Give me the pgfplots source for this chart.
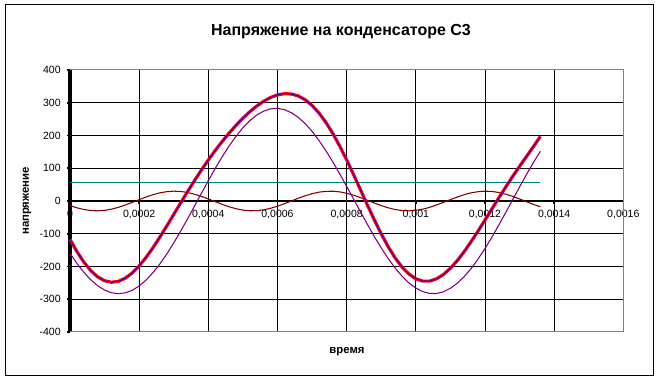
\documentclass[border=0pt]{standalone}
\usepackage{pgfplots}
\usepackage{pgfplotstable}
\pgfplotsset{compat=1.18}
\usepackage{fontspec}
\setmainfont{Liberation Sans}
\definecolor{xlred}{RGB}{255,0,0}
\definecolor{xlblue}{RGB}{0,0,255}
\definecolor{xlpurple}{RGB}{128,0,128}
\definecolor{xldred}{RGB}{128,0,0}
\definecolor{xlteal}{RGB}{0,128,128}
\definecolor{xlgray}{RGB}{128,128,128}
\pgfplotstableread{
t P D R
0       -160.0 -14.1 -117.1
0.00002 -190.6 -20.8 -154.4
0.00004 -217.5 -26.0 -186.5
0.00006 -240.4 -29.1 -212.5
0.00008 -258.7 -30.0 -231.7
0.00010 -272.0 -28.5 -243.5
0.00012 -280.2 -24.9 -248.1
0.00014 -283.0 -19.3 -245.3
0.00016 -280.4 -12.2 -235.6
0.00018 -272.6 -4.2 -219.8
0.00020 -259.4 4.2 -198.2
0.00022 -241.4 12.2 -172.2
0.00024 -218.8 19.3 -142.5
0.00026 -192.0 24.9 -110.1
0.00028 -161.6 28.5 -76.1
0.00030 -128.0 30.0 -41.0
0.00032 -92.1 29.1 -6.0
0.00034 -54.4 26.0 28.6
0.00036 -15.6 20.8 62.2
0.00038 23.4 14.1 94.5
0.00040 62.0 6.2 125.2
0.00042 99.4 -2.1 154.3
0.00044 135.0 -10.3 181.7
0.00046 167.9 -17.6 207.3
0.00048 197.6 -23.6 231.0
0.00050 223.7 -27.8 252.9
0.00052 245.4 -29.8 272.6
0.00054 262.5 -29.5 290.0
0.00056 274.5 -27.0 304.5
0.00058 281.4 -22.3 316.1
0.00060 282.9 -15.9 324.0
0.00062 279.0 -8.3 327.7
0.00064 269.7 0.0 326.7
0.00066 255.4 8.3 320.7
0.00068 236.2 15.9 309.1
0.00070 212.5 22.3 291.8
0.00072 184.7 27.0 268.7
0.00074 153.5 29.5 240.0
0.00076 119.3 29.8 206.1
0.00078 82.8 27.8 167.6
0.00080 44.8 23.6 125.4
0.00082 5.9 17.6 80.5
0.00084 -33.1 10.3 34.2
0.00086 -71.5 2.1 -12.4
0.00088 -108.5 -6.2 -57.7
0.00090 -143.5 -14.1 -100.6
0.00092 -175.7 -20.8 -139.5
0.00094 -204.5 -26.0 -173.5
0.00096 -229.5 -29.1 -201.6
0.00098 -250.1 -30.0 -223.1
0.00100 -266.0 -28.5 -237.5
0.00102 -276.7 -24.9 -244.6
0.00104 -282.3 -19.3 -244.6
0.00106 -282.4 -12.2 -237.6
0.00108 -277.2 -4.2 -224.4
0.00110 -266.6 4.2 -205.4
0.00112 -251.1 12.2 -181.9
0.00114 -230.7 19.3 -154.4
0.00116 -205.9 24.9 -124.0
0.00118 -177.2 28.5 -91.7
0.00120 -145.2 30.0 -58.2
0.00122 -110.3 29.1 -24.2
0.00124 -73.4 26.0 9.6
0.00126 -35.1 20.8 42.7
0.00128 3.8 14.1 74.9
0.00130 42.8 6.2 106.0
0.00132 80.9 -2.1 135.8
0.00134 117.4 -10.3 166.0
0.00136 151.8 -17.6 197.0
}\datatable
\begin{document}
\begin{tikzpicture}
\path[use as bounding box] (0,0) rectangle (493.5pt,285.75pt);
\fill[white] (0,0) rectangle (493.5pt,285.75pt);
\draw[black, line width=0.75pt] (3.75pt,3.75pt) rectangle (489.75pt,282pt);
\node[font=\fontsize{12}{14}\selectfont\bfseries] at (255.75pt,261.75pt) {Напряжение на конденсаторе С3};
\node[font=\fontsize{8.5}{10}\selectfont\bfseries] at (260.25pt,21.75pt) {время};
\node[font=\fontsize{8.5}{10}\selectfont\bfseries, rotate=90] at (20.25pt,135pt) {напряжение};
\begin{axis}[
  at={(52.5pt,36.75pt)}, anchor=south west,
  scale only axis, width=415pt, height=196.5pt,
  xmin=0, xmax=0.0016, ymin=-400, ymax=400,
  axis x line=middle, axis y line=left,
  x axis line style={-, black, line width=2.2pt},
  y axis line style={-, black, line width=3pt},
  hide obscured x ticks=false, hide obscured y ticks=false,
  xtick={0,0.0002,0.0004,0.0006,0.0008,0.001,0.0012,0.0014,0.0016},
  xticklabels={0,{0,0002},{0,0004},{0,0006},{0,0008},{0,001},{0,0012},{0,0014},{0,0016}},
  ytick={-400,-300,-200,-100,0,100,200,300,400},
  grid=major, major grid style={black, line width=0.75pt},
  tick align=outside, major tick length=2.5pt, tick style={black, line width=1.2pt},
  scaled x ticks=false,
  /pgf/number format/assume math mode=true,
  ticklabel style={font=\fontsize{7.9}{9}\selectfont},
  xticklabel style={anchor=north, yshift=-1pt},
  yticklabel style={anchor=east, xshift=-1pt},
  clip=false,
]
\draw[xlgray, line width=0.75pt] (rel axis cs:0,0) -- (rel axis cs:1,0) -- (rel axis cs:1,1) -- (rel axis cs:0,1);
\addplot[xlteal, line width=0.8pt] coordinates {(0,57) (0.00136,57)};
\addplot[xldred, line width=0.8pt] table[x=t, y=D] {\datatable};
\addplot[xlpurple, line width=0.8pt] table[x=t, y=P] {\datatable};
\addplot[xlred, line width=2.4pt] table[x=t, y=R] {\datatable};
\addplot[xlblue, line width=0.55pt] table[x=t, y=R] {\datatable};
\end{axis}
\end{tikzpicture}
\end{document}
